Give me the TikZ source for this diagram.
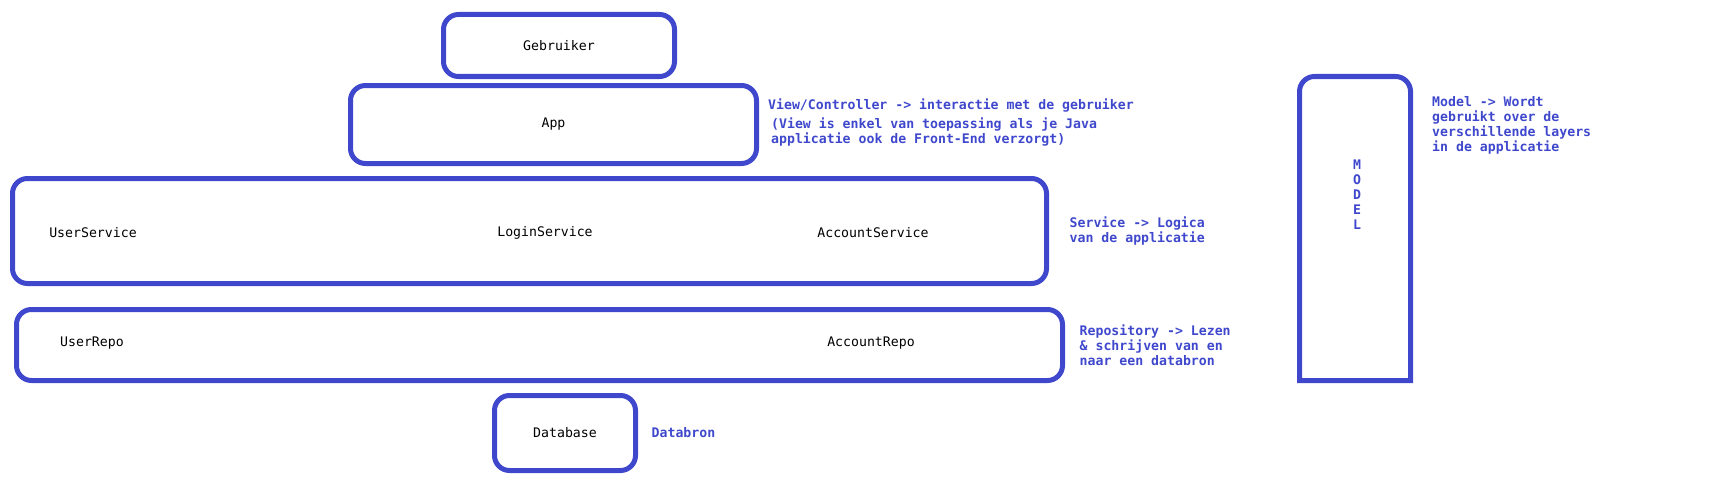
\documentclass[tikz,border=0pt]{standalone}
\usepackage{fontspec}
\setmonofont{DejaVu Sans Mono}
\usetikzlibrary{positioning}
\definecolor{layerblue}{RGB}{63,72,204}
\tikzset{
  layer/.style={draw=layerblue, line width=5pt, rounded corners=15pt, inner sep=0pt, outer sep=0pt,
    font=\ttfamily\fontsize{13.2}{15}\selectfont},
  lbl/.style={inner sep=0pt, font=\ttfamily\fontsize{13.2}{15}\selectfont},
  note/.style={inner sep=0pt, text=layerblue, align=left,
    font=\ttfamily\bfseries\fontsize{13.2}{15}\selectfont},
}
\begin{document}
\begin{tikzpicture}[x=1pt,y=-1pt]
  \useasboundingbox (0,0) rectangle (1721,487);
  % layers
  \node[layer, minimum width=231pt, minimum height=62pt] (gebruiker) at (559,45.5) {Gebruiker};
  \node[layer, minimum width=406pt, minimum height=78pt] (app) at (553.5,124.5) {App};
  \node[layer, minimum width=1034pt, minimum height=105pt] (service) at (529.5,231) {};
  \node[layer, minimum width=1046pt, minimum height=71pt] (repo) at (539.5,345) {};
  \node[layer, minimum width=141pt, minimum height=75pt] (database) at (565,433) {Database};
  \node[layer, draw=none, minimum width=111pt, minimum height=304pt] (model) at (1355,228.5) {};
  \draw[layerblue, line width=5pt] (model.south west) [rounded corners=15pt] -- (model.north west)
    -- (model.north east) [sharp corners] -- (model.south east) -- cycle;

  % classes
  \node[lbl] (userservice) at (93,233) {UserService};
  \node[lbl] (loginservice) at (545,233) {LoginService};
  \node[lbl] (accountservice) at (873,233) {AccountService};
  \node[lbl] (userrepo) at (92,343) {UserRepo};
  \node[lbl] (accountrepo) at (871,343) {AccountRepo};
  \node[note, align=center] (modelword) at (1357,195) {M\\O\\D\\E\\L};

  % notes
  \node[note, anchor=west] (viewnote) at (768,105) {View/Controller -> interactie met de gebruiker};
  \node[note, anchor=west] (viewsub) at (771,132) {(View is enkel van toepassing als je Java\\applicatie ook de Front-End verzorgt)};
  \node[note, right=23pt of service] (servicenote) {Service -> Logica\\van de applicatie};
  \node[note, right=17pt of repo] (reponote) {Repository -> Lezen\\\& schrijven van en\\naar een databron};
  \node[note, right=16pt of database] (dbnote) {Databron};
  \node[note, anchor=west] (modelnote) at (1432,125.5) {Model -> Wordt\\gebruikt over de\\verschillende layers\\in de applicatie};
\end{tikzpicture}
\end{document}
